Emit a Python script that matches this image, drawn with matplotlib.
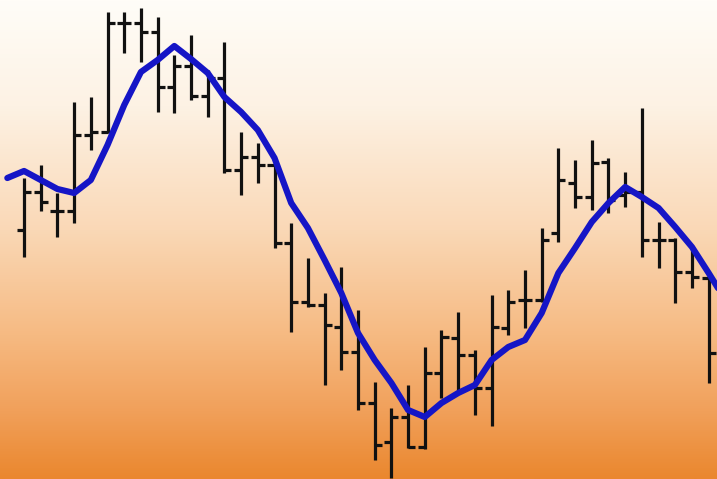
import numpy as np
import matplotlib
matplotlib.use('Agg')
import matplotlib.pyplot as plt
from matplotlib.colors import LinearSegmentedColormap

# OHLC bars, one per session
opens = [24.9, 28.7, 26.8, 26.8, 34.4, 34.7, 45.6, 45.6, 44.7, 39.2,
         41.3, 38.3, 40.1, 30.9, 32.2, 31.4, 23.6, 17.7, 17.4, 15.2,
         12.7, 7.6, 3.7, 6.2, 3.2, 10.6, 14.1, 12.4, 9.1, 15.1,
         17.9, 17.9, 24.6, 29.6, 28.2, 31.7, 28.4, 28.7, 23.9, 23.9,
         20.7, 20.1]
highs = [30.1, 31.4, 28.6, 37.7, 38.2, 46.7, 46.7, 47.1, 46.2, 42.4,
         44.4, 40.9, 43.7, 34.7, 33.6, 31.9, 25.6, 22.1, 18.6, 21.2,
         16.9, 9.7, 7.1, 9.4, 13.2, 14.9, 16.7, 12.9, 18.4, 18.9,
         20.9, 25.1, 33.1, 31.9, 33.9, 32.1, 30.7, 37.1, 25.7, 24.1,
         23.2, 20.4]
lows = [22.2, 26.8, 24.2, 25.6, 32.9, 34.6, 42.6, 41.7, 36.7, 36.6,
        37.9, 36.2, 30.6, 28.4, 29.6, 23.1, 14.7, 17.2, 9.4, 10.9,
        6.9, 1.9, 0.1, 3.1, 3.0, 8.1, 8.6, 6.4, 5.3, 14.4,
        15.1, 17.7, 23.7, 27.1, 26.9, 26.6, 27.2, 22.2, 21.1, 17.6,
        19.1, 9.6]
closes = [28.7, 27.7, 26.8, 34.4, 34.7, 45.6, 45.6, 44.7, 39.2, 41.3,
          38.3, 40.1, 30.9, 32.2, 31.4, 23.6, 17.7, 17.4, 15.4, 12.7,
          7.6, 3.4, 6.2, 3.2, 10.6, 14.2, 12.4, 9.1, 15.2, 17.7,
          17.9, 23.9, 29.9, 28.2, 31.6, 27.9, 28.7, 23.9, 23.9, 20.7,
          20.2, 12.6]

# moving average, starts one session before the first visible bar
moving_avg = [30.1, 30.8, 29.9, 29.0, 28.6, 29.9, 33.4, 37.4, 40.7, 41.9,
              43.3, 42.0, 40.6, 38.2, 36.7, 34.9, 32.1, 27.6, 25.1, 21.9,
              18.6, 14.6, 11.9, 9.6, 6.9, 6.2, 7.6, 8.6, 9.4, 11.9,
              13.2, 13.9, 16.6, 20.6, 23.1, 25.7, 27.6, 29.2, 28.2, 27.1,
              25.2, 23.2, 20.6, 17.9]

BAR_COLOR = '#111111'
MA_COLOR = '#1515c6'
TICK = 0.42

fig = plt.figure(figsize=(7.17, 4.79), dpi=100)
ax = fig.add_axes([0, 0, 1, 1])
ax.set_xlim(-0.44, 42.5)
ax.set_ylim(0, 47.9)
ax.axis('off')

# white -> orange background
bg = LinearSegmentedColormap.from_list('bg', [
    (0.0, '#fffdf8'), (0.22, '#fdf2e4'), (0.48, '#fad8b6'),
    (0.7, '#f6ba82'), (0.86, '#f1a05a'), (1.0, '#ea872e')])
grad = np.linspace(0, 1, 256).reshape(-1, 1)
ax.imshow(grad, cmap=bg, aspect='auto', extent=[-0.44, 42.5, 0, 47.9],
          origin='upper', zorder=0)

x = np.arange(1, len(opens) + 1)
ax.vlines(x, lows, highs, color=BAR_COLOR, linewidth=2.3, zorder=2)
ax.hlines(opens, x - TICK, x, color=BAR_COLOR, linewidth=2.3, zorder=2)
ax.hlines(closes, x, x + TICK, color=BAR_COLOR, linewidth=2.3, zorder=2)

ax.plot(np.arange(len(moving_avg)), moving_avg, color=MA_COLOR, linewidth=4.5,
        solid_joinstyle='round', solid_capstyle='round', zorder=3)

fig.savefig('out.png', dpi=100)
